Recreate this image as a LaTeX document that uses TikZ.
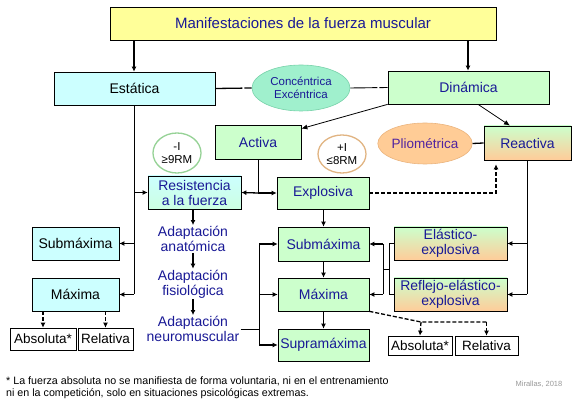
\documentclass[tikz,border=0pt]{standalone}
\usepackage{fontspec}
\setmainfont{Liberation Sans}
\usetikzlibrary{arrows.meta,shapes.geometric}
\definecolor{navy}{RGB}{25,25,150}
\definecolor{plum}{RGB}{80,35,160}
\definecolor{ylw}{RGB}{255,255,153}
\definecolor{cyn}{RGB}{204,255,255}
\definecolor{grn}{RGB}{204,255,204}
\definecolor{org}{RGB}{255,204,153}
\definecolor{mint}{RGB}{160,240,205}
\definecolor{mintd}{RGB}{120,210,170}
\definecolor{peach}{RGB}{255,204,150}
\definecolor{peachd}{RGB}{235,180,125}
\definecolor{cgrn}{RGB}{150,210,150}
\definecolor{corg}{RGB}{225,180,130}
\definecolor{cyg}{RGB}{204,255,225}
\tikzset{
  bx/.style={draw=black, line width=0.7pt, inner sep=0pt, align=center,
    font=\fontsize{14}{15}\selectfont},
  cbox/.style={bx, fill=cyn, text=black},
  gbox/.style={bx, fill=grn, text=navy},
  obox/.style={bx, top color=grn, bottom color=org, text=navy},
  wbox/.style={bx, fill=white, text=black, font=\fontsize{13.5}{15}\selectfont},
  adtext/.style={inner sep=1pt, align=center, text=navy,
    font=\fontsize{14}{15}\selectfont},
  arr/.style={line width=1.3pt, -{Latex[length=5pt,width=5pt]}},
  tarr/.style={line width=0.8pt, -{Latex[length=6pt,width=5pt]}},
  vline/.style={line width=0.8pt},
  tline/.style={line width=0.6pt},
  dsharr/.style={line width=1.3pt, dash pattern=on 4pt off 2pt, -{Latex[length=5pt,width=5pt]}},
  dshline/.style={line width=1.3pt, dash pattern=on 4pt off 2pt},
}
\begin{document}
\begin{tikzpicture}[x=1pt,y=-1pt]
\useasboundingbox (0,0) rectangle (576,403);
\fill[white] (0,0) rectangle (576,403);

% nodes
\node[bx, fill=ylw, text=navy, minimum width=386pt, minimum height=33pt, font=\fontsize{15}{16}\selectfont] (title) at (303,23.5) {Manifestaciones de la fuerza muscular};
\node[cbox, minimum width=161pt, minimum height=33pt] (estatica) at (134.5,88.5) {Estática};
\node[gbox, minimum width=161pt, minimum height=33pt] (dinamica) at (468.5,87.5) {Dinámica};
\node[ellipse, fill=mint, draw=mintd, line width=0.6pt, inner sep=0pt, minimum width=98pt, minimum height=46pt, align=center, text=navy, font=\fontsize{11.5}{13}\selectfont] (conc) at (301,88) {Concéntrica\\Excéntrica};
\node[gbox, minimum width=86pt, minimum height=34pt] (activa) at (258,142) {Activa};
\node[ellipse, fill=white, draw=cgrn, line width=1.3pt, inner sep=0pt, minimum width=48pt, minimum height=40pt, align=center, font=\fontsize{11.5}{12.5}\selectfont] (circa) at (177,153) {-I\\≥9RM};
\node[ellipse, fill=white, draw=corg, line width=1.3pt, inner sep=0pt, minimum width=48pt, minimum height=38pt, align=center, font=\fontsize{11.5}{12.5}\selectfont] (circb) at (342,154) {+I\\≤8RM};
\node[ellipse, fill=peach, draw=peachd, line width=0.6pt, inner sep=0pt, minimum width=82pt, minimum height=41pt, text=plum, font=\fontsize{13.5}{15}\selectfont] (plio) at (425,143.5) {Pliométrica};
\node[obox, minimum width=87pt, minimum height=34pt] (reactiva) at (527.5,143) {Reactiva};
\node[bx, top color=cyn, bottom color=cyg, text=navy, minimum width=93pt, minimum height=33pt] (resist) at (194.5,192.5) {Resistencia\\a la fuerza};
\node[gbox, minimum width=92pt, minimum height=32pt] (explosiva) at (323,193) {Explosiva};
\node[cbox, minimum width=87pt, minimum height=33pt] (subl) at (75.5,243.5) {Submáxima};
\node[cbox, minimum width=87pt, minimum height=33pt] (maxl) at (75.5,294.5) {Máxima};
\node[wbox, minimum width=66pt, minimum height=22pt] (absl) at (43,339) {Absoluta*};
\node[wbox, minimum width=55pt, minimum height=22pt] (rell) at (105.5,339) {Relativa};
\node[adtext] (ad1) at (193,239) {Adaptación\\anatómica};
\node[adtext] (ad2) at (193,284) {Adaptación\\fisiológica};
\node[adtext] (ad3) at (193,329) {Adaptación\\neuromuscular};
\node[gbox, minimum width=91pt, minimum height=34pt] (subm) at (323.5,244) {Submáxima};
\node[gbox, minimum width=91pt, minimum height=33pt] (maxm) at (323.5,294.5) {Máxima};
\node[gbox, minimum width=91pt, minimum height=32pt] (supra) at (323.5,345) {Supramáxima};
\node[obox, minimum width=113pt, minimum height=33pt] (elastico) at (450.5,243.5) {Elástico-\\explosiva};
\node[obox, minimum width=113pt, minimum height=33pt] (reflejo) at (450.5,294.5) {Reflejo-elástico-\\explosiva};
\node[wbox, minimum width=64pt, minimum height=19pt] (absr) at (420,345.5) {Absoluta*};
\node[wbox, minimum width=63pt, minimum height=19pt] (relr) at (486.5,345.5) {Relativa};
\node[anchor=west, align=left, inner sep=0pt, font=\fontsize{10.7}{11.5}\selectfont] (foot) at (6,387.5) {* La fuerza absoluta no se manifiesta de forma voluntaria, ni en el entrenamiento\\ni en la competición, solo en situaciones psicológicas extremas.};
\node[text=black!40, inner sep=0pt, font=\fontsize{7.5}{9}\selectfont] (autor) at (539,384) {Mirallas, 2018};

% coordinates for vertical lines
\coordinate (tl) at (134,0);
\coordinate (tr) at (468,0);
\coordinate (ev) at (134,0);
\coordinate (mv) at (259,0);
\coordinate (rv) at (527,0);
\coordinate (b1) at (389,0);
\coordinate (b2) at (383,0);
\coordinate (xd) at (496,0);
\coordinate (dj) at (421,322);

% title arrows
\draw[arr] (title.south -| tl) -- (estatica.north -| tl);
\draw[arr] (title.south -| tr) -- (dinamica.north -| tr);

% concentric/eccentric link
\draw[line width=1.3pt, dash pattern=on 27pt off 2pt on 60pt off 0pt] (estatica.east) -- (conc.west);
\draw[line width=0.9pt, dash pattern=on 27pt off 2pt on 60pt off 0pt] (conc.east) -- (dinamica.west);

% dinamica branches
\draw[tarr] (dinamica.south west) -- ([yshift=-4pt]activa.north east);
\draw[tarr] ([xshift=9.5pt]dinamica.south) -- ([xshift=-17.5pt]reactiva.north);
\draw[line width=1.3pt] (plio.east) -- (reactiva.west);

% activa junction
\coordinate (aj) at (activa.south |- explosiva.west);
\draw[vline] (activa.south) -- (aj);
\draw[arr] (aj) -- (resist.east);
\draw[arr] (aj) -- (explosiva.west);

% estatica vertical
\draw[vline] (estatica.south -| ev) -- (maxl.east -| ev);
\draw[arr] (resist.west -| ev) -- (resist.west);
\draw[arr] (subl.east -| ev) -- (subl.east);
\draw[arr] (maxl.east -| ev) -- (maxl.east);

% left maxima dashed
\draw[dsharr] (maxl.south -| absl) -- (absl.north);
\draw[dsharr] (maxl.south -| rell) -- (rell.north);

% adaptations
\draw[arr] (resist.south -| ad1) -- (ad1.north);
\draw[arr] (ad1.south) -- (ad2.north);
\draw[arr] (ad2.south) -- (ad3.north);
\draw[vline] (ad3.east) -- (ad3.east -| mv);
\draw[vline] (subm.west -| mv) -- (supra.west -| mv);
\draw[arr] (subm.west -| mv) -- (subm.west);
\draw[arr] (maxm.west -| mv) -- (maxm.west);
\draw[arr] (supra.west -| mv) -- (supra.west);

% middle column
\draw[arr] (explosiva.south -| subm) -- (subm.north);
\draw[arr] (subm.south) -- (maxm.north);
\draw[arr] (maxm.south) -- (supra.north);

% reactiva vertical
\draw[vline] (reactiva.south -| rv) -- (reflejo.east -| rv);
\draw[arr] (elastico.east -| rv) -- (elastico.east);
\draw[arr] (reflejo.east -| rv) -- (reflejo.east);

% bracket to middle
\draw[tline] (elastico.west) -- (elastico.west -| b1) -- (reflejo.west -| b1) -- (reflejo.west);
\coordinate (bm) at (389,269);
\draw[tline] (bm) -- (bm -| b2);
\draw[tline] (subm.east -| b2) -- (maxm.east -| b2);
\draw[arr] (subm.east -| b2) -- (subm.east);
\draw[arr] (maxm.east -| b2) -- (maxm.east);

% explosiva dashed to reactiva
\draw[dsharr, shorten >=4pt] (explosiva.east) -- (explosiva.east -| xd) -- (reactiva.south -| xd);

% maxima dashed to absoluta / relativa
\draw[dshline] (maxm.south east) -- (dj) -- (dj -| relr);
\draw[dsharr] (dj) -- (absr.north);
\draw[dsharr] (dj -| relr) -- (relr.north);
\end{tikzpicture}
\end{document}
